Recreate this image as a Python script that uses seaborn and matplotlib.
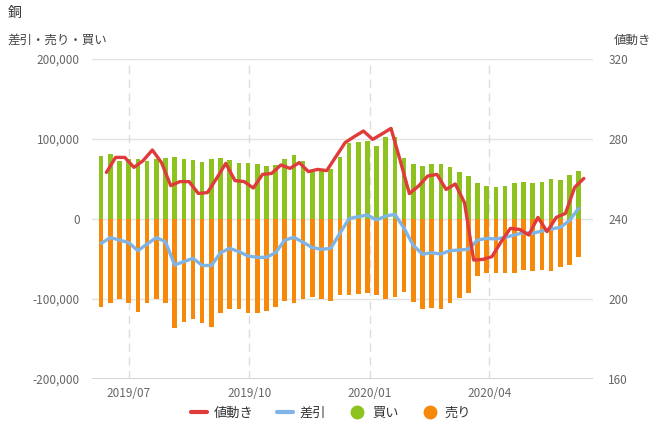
import numpy as np
import pandas as pd
import matplotlib
matplotlib.use("Agg")
import matplotlib.pyplot as plt
import matplotlib.dates as mdates
from matplotlib.lines import Line2D
from matplotlib.ticker import FuncFormatter
import seaborn as sns

# ---- data -------------------------------------------------------------
weeks = pd.date_range("2019-06-10", periods=53, freq="7D")
price_dates = weeks + pd.Timedelta(days=4)

buy = [78750, 81250, 72500, 75000, 75000, 72500, 75000, 76250, 77500, 75000,
       73750, 71250, 75000, 76250, 73750, 70000, 70000, 68750, 66250, 67500,
       75000, 80000, 72500, 58750, 61250, 62500, 77500, 95000, 96250, 97500,
       91250, 102500, 102500, 76250, 68750, 66250, 68750, 68750, 65000, 58750,
       53750, 45000, 41250, 40000, 41250, 45000, 46250, 45000, 46250, 50000,
       48750, 55000, 60000]

sell = [-109600, -105400, -99600, -105400, -115800, -105400, -99600, -105400,
        -136700, -129200, -124600, -130400, -134600, -117900, -112100, -112100,
        -117100, -117100, -114600, -109600, -102100, -104600, -99600, -97900,
        -99600, -102100, -95400, -95400, -94200, -92900, -95400, -99600,
        -97100, -90800, -103300, -112900, -111700, -112900, -104600, -98300,
        -92100, -71700, -67100, -67100, -67100, -67100, -63300, -64600,
        -63300, -64600, -59600, -57100, -47900]

net = [-30400, -23300, -26250, -29600, -39600, -31250, -23300, -28300, -57500,
       -53300, -49200, -57900, -58300, -42100, -36700, -40800, -46250, -47900,
       -47900, -42100, -26250, -22900, -29200, -35800, -37900, -36700, -17900,
       400, 2900, 5000, -1250, 3750, 5800, -11700, -33000, -44000, -42100,
       -43750, -39600, -38750, -37900, -26250, -24200, -25000, -22900, -20000,
       -17100, -17900, -15000, -12500, -10400, -2100, 13300]

price = [263.3, 270.8, 270.8, 265.8, 269.2, 274.5, 268.2, 256.7, 258.7, 258.7,
         252.8, 253.2, 260.3, 267.8, 259.2, 258.7, 255.5, 262.3, 262.8, 267.0,
         265.3, 268.2, 263.7, 264.8, 264.2, 271.2, 278.2, 281.2, 284.0, 279.8,
         282.5, 285.3, 269.2, 252.7, 256.5, 261.5, 262.3, 254.8, 257.5, 248.2,
         219.5, 219.8, 221.2, 228.7, 235.3, 234.8, 232.0, 240.8, 233.7, 240.8,
         242.8, 255.8, 260.3]

left_ticks = [-200000, -100000, 0, 100000, 200000]
right_ticks = [160, 200, 240, 280, 320]

labels = {"price": "値動き", "net": "差引", "buy": "買い", "sell": "売り"}
title = "銅"
left_title = "差引・売り・買い"
right_title = "値動き"

# ---- style ------------------------------------------------------------
sns.set_style("white")
plt.rcParams["font.family"] = ["Noto Sans CJK JP", "DejaVu Sans"]

C_BUY = "#8dc21f"
C_SELL = "#f7890a"
C_NET = "#7fb4e6"
C_PRICE = "#df3b3b"
C_TICK = "#666666"
C_GRID = "#e3e3e3"

fig = plt.figure(figsize=(6.61, 4.40), dpi=100)
ax = fig.add_axes([92 / 661, 1 - 379 / 440, (593 - 92) / 661, (379 - 59) / 440])

xnum = mdates.date2num(weeks.to_pydatetime())
pnum = mdates.date2num(price_dates.to_pydatetime())

df = pd.DataFrame({"x": xnum, "buy": buy, "sell": sell, "net": net})
dfp = pd.DataFrame({"x": pnum, "price": price})

sns.barplot(data=df, x="x", y="buy", color=C_BUY, native_scale=True,
            width=0.5, saturation=1, linewidth=0, ax=ax, zorder=2)
sns.barplot(data=df, x="x", y="sell", color=C_SELL, native_scale=True,
            width=0.5, saturation=1, linewidth=0, ax=ax, zorder=2)
sns.lineplot(data=df, x="x", y="net", color=C_NET, linewidth=2.4, ax=ax,
             zorder=3)

ax.set_ylim(-200000, 200000)
ax.set_yticks(left_ticks)
ax.yaxis.set_major_formatter(FuncFormatter(lambda v, p: f"{int(v):,}"))
xmin = mdates.date2num(pd.Timestamp("2019-06-03").to_pydatetime())
xmax = mdates.date2num(pd.Timestamp("2020-06-19").to_pydatetime())
ax.set_xlim(xmin, xmax)
ax.xaxis.set_major_locator(mdates.MonthLocator(bymonth=[1, 4, 7, 10]))
ax.xaxis.set_major_formatter(mdates.DateFormatter("%Y/%m"))
ax.set_xlabel("")
ax.set_ylabel("")

for v in left_ticks:
    ax.axhline(v, color=C_GRID, lw=1, zorder=0)
ax.grid(False)
ax.xaxis.grid(True, color="#dcdcdc", lw=1, linestyle=(0, (6, 4)), zorder=0)
ax.set_axisbelow(True)
for s in ax.spines.values():
    s.set_visible(False)
ax.axhline(-200000, color="#c9ced6", lw=1.2, zorder=1)

ax.tick_params(axis="y", length=0, pad=9, labelsize=8.5, colors=C_TICK)
ax.tick_params(axis="x", length=0, pad=6, labelsize=8.5, colors=C_TICK)

ax2 = ax.twinx()
sns.lineplot(data=dfp, x="x", y="price", color=C_PRICE, linewidth=2.4, ax=ax2,
             zorder=4)
ax2.set_ylim(160, 320)
ax2.set_yticks(right_ticks)
ax2.set_xlim(xmin, xmax)
ax2.set_ylabel("")
ax2.set_xlabel("")
for s in ax2.spines.values():
    s.set_visible(False)
ax2.tick_params(axis="y", length=0, pad=11, labelsize=8.5, colors=C_TICK)
ax2.grid(False)

fig.text(8 / 661, 1 - 12.5 / 440, title, fontsize=10, color="#333333",
         va="center", ha="left")
fig.text(7 / 661, 1 - 40 / 440, left_title, fontsize=9, color="#444444",
         va="center", ha="left")
fig.text(651 / 661, 1 - 40 / 440, right_title, fontsize=9, color="#444444",
         va="center", ha="right")

handles = [
    Line2D([], [], color=C_PRICE, lw=3),
    Line2D([], [], color=C_NET, lw=3),
    Line2D([], [], color=C_BUY, marker="o", markersize=9, linestyle="none"),
    Line2D([], [], color=C_SELL, marker="o", markersize=9, linestyle="none"),
]
leg = fig.legend(handles, [labels["price"], labels["net"], labels["buy"], labels["sell"]],
                 loc="center", bbox_to_anchor=(331 / 661, 1 - 413 / 440), ncol=4,
                 frameon=False, handlelength=1.2, handletextpad=0.5,
                 columnspacing=1.8, fontsize=9.5)
for t in leg.get_texts():
    t.set_color("#333333")

fig.savefig("out.png", dpi=100)
